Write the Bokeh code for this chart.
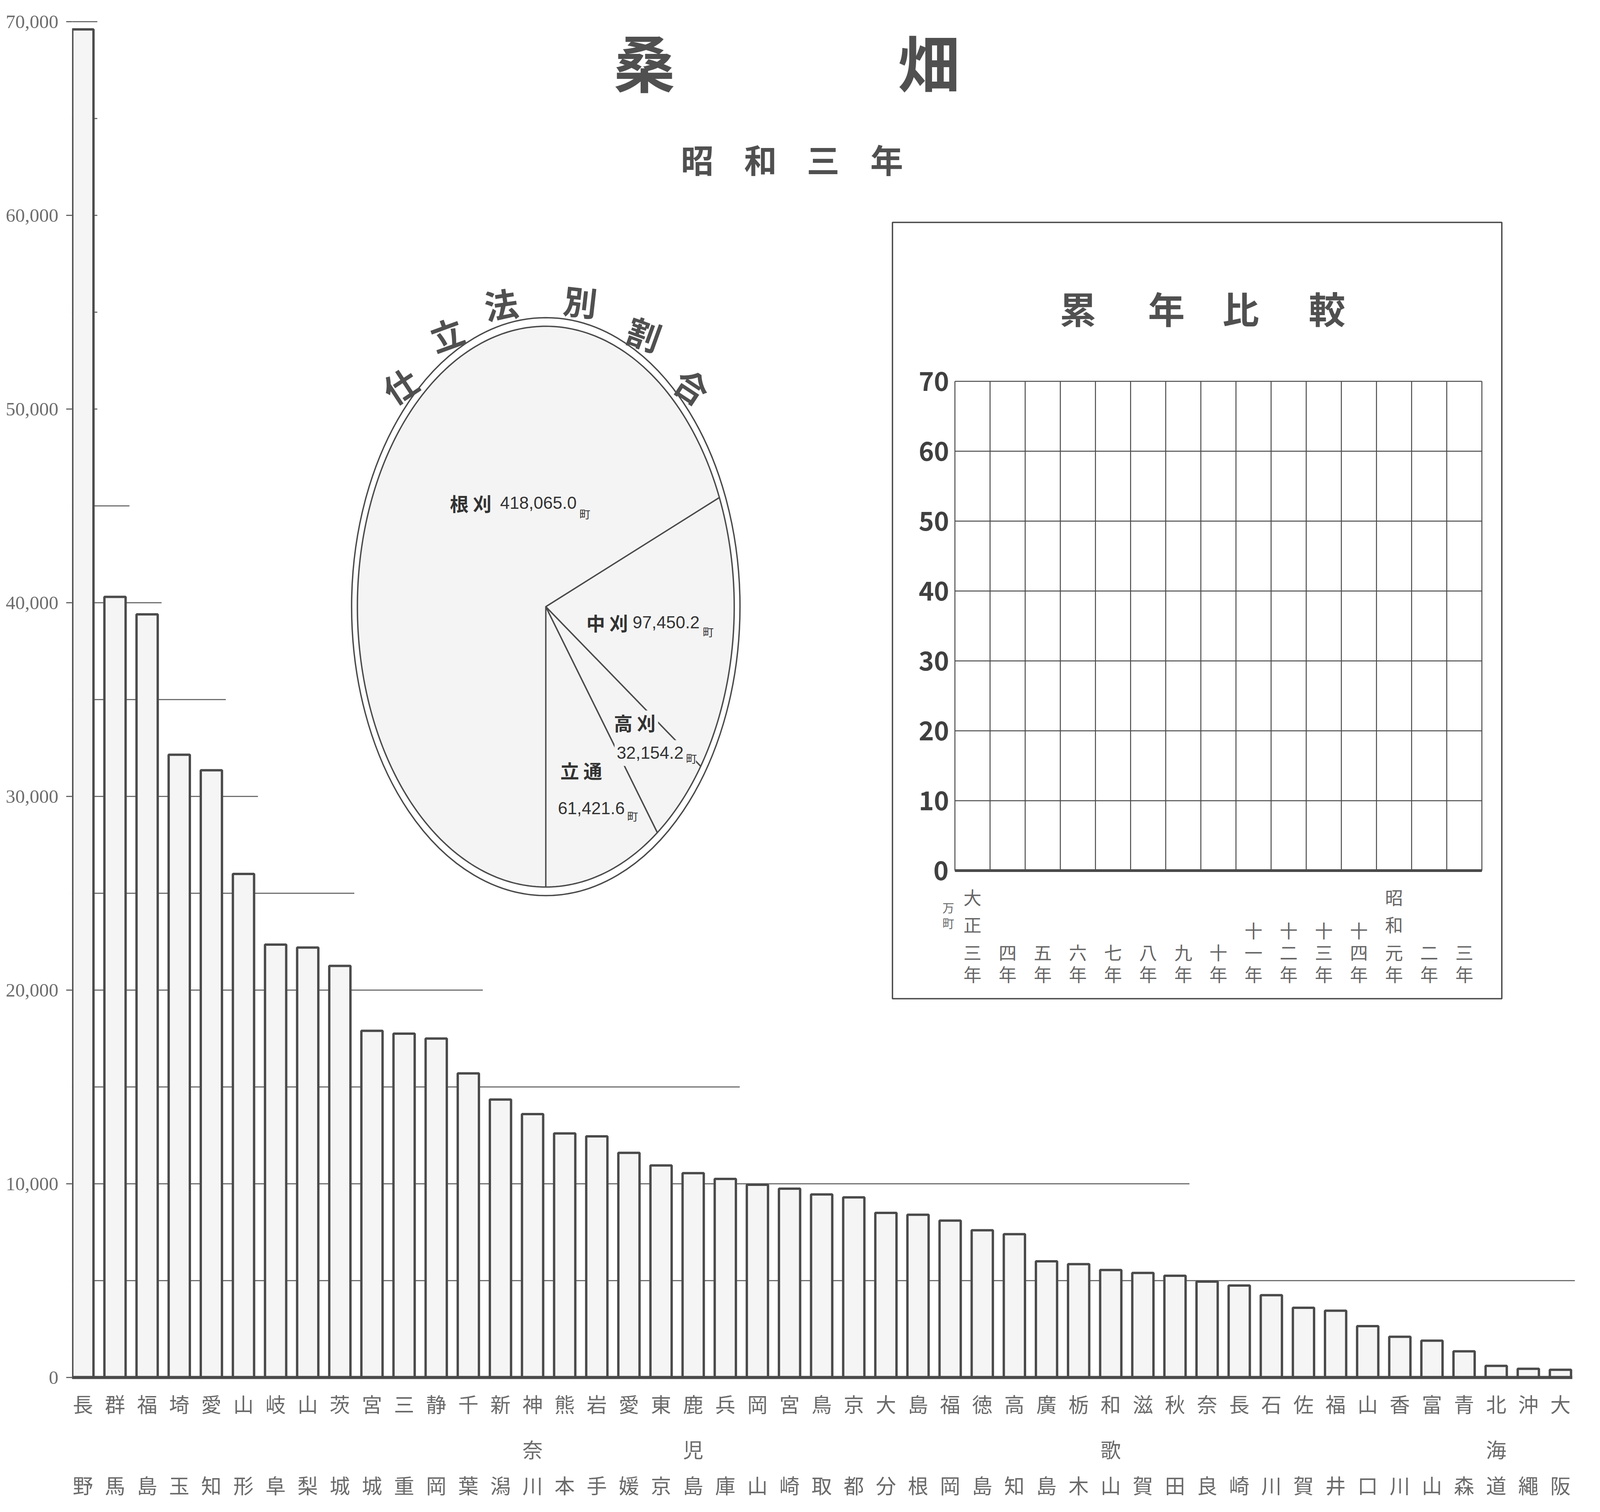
import math
from bokeh.plotting import figure
from bokeh.models import Range1d, LinearAxis, FixedTicker, NumeralTickFormatter, ColumnDataSource, Label
from bokeh.core.properties import value
from bokeh.embed import file_html
from bokeh.resources import INLINE

# ---------------- data ----------------
prefectures = ["長野", "群馬", "福島", "埼玉", "愛知", "山形", "岐阜", "山梨", "茨城", "宮城",
               "三重", "静岡", "千葉", "新潟", "神奈川", "熊本", "岩手", "愛媛", "東京", "鹿児島",
               "兵庫", "岡山", "宮崎", "鳥取", "京都", "大分", "島根", "福岡", "徳島", "高知",
               "廣島", "栃木", "和歌山", "滋賀", "秋田", "奈良", "長崎", "石川", "佐賀", "福井",
               "山口", "香川", "富山", "青森", "北海道", "沖繩", "大阪"]
mulberry_area_cho = [69600, 40300, 39400, 32150, 31350, 26000, 22350, 22200, 21250, 17900,
                     17750, 17500, 15700, 14350, 13600, 12600, 12450, 11600, 10950, 10550,
                     10250, 9950, 9750, 9450, 9300, 8500, 8400, 8100, 7600, 7400,
                     6000, 5850, 5550, 5400, 5250, 4950, 4750, 4250, 3600, 3450,
                     2650, 2100, 1900, 1350, 600, 450, 400]
y_ticks = [0, 10000, 20000, 30000, 40000, 50000, 60000, 70000]
grid_levels = [5000, 10000, 15000, 20000, 25000, 30000, 35000, 40000,
               45000, 50000, 55000, 60000, 65000, 70000]

methods = ["立通", "高刈", "中刈", "根刈"]          # anticlockwise from the bottom
method_area = [61421.6, 32154.2, 97450.2, 418065.0]

inset_years = ["三年", "四年", "五年", "六年", "七年", "八年", "九年", "十年", "十一年",
               "十二年", "十三年", "十四年", "元年", "二年", "三年"]
inset_eras = ["大正", "", "", "", "", "", "", "", "", "", "", "", "昭和", "", ""]
inset_ticks = [0, 10, 20, 30, 40, 50, 60, 70]

title_chars = ["桑", "畑"]
subtitle_chars = ["昭", "和", "三", "年"]
pie_title_chars = ["仕", "立", "法", "別", "割", "合"]
inset_title_chars = ["累", "年", "比", "較"]

# ---------------- layout: reference pixels -> css px / data ----------------
SX, SY = 6097 / 4096, 1.0          # reference pixels per css pixel (x, y)
W, H = 4080, 3856
LEFT = 184
FL, FR = (LEFT + 8) * SX, (W + 8) * SX
FT, FB = 8 * SY, (H + 8) * SY
BAR0, BARSTEP = 327.0, 122.4       # reference x of first bar centre, spacing
BASE, VSCALE = 3535.0, 0.0496      # reference y of zero, ref px per cho


def dx(rx):
    return (rx - BAR0) / BARSTEP


def dy(ry):
    return (BASE - ry) / VSCALE


INK = "#4a4a4a"
PIE_FILL = "#f4f4f4"
CJK = value("Noto Sans CJK JP")

p = figure(width=W, height=H, x_range=Range1d(dx(FL), dx(FR)), y_range=Range1d(dy(FB), dy(FT)),
           x_axis_type=None, y_axis_type=None,
           output_backend="svg", toolbar_location=None,
           min_border_left=LEFT, min_border_right=0, min_border_top=0, min_border_bottom=0,
           outline_line_color=None, background_fill_color="white", border_fill_color="white")

# ---------------- y axis ----------------
yaxis = LinearAxis(ticker=FixedTicker(ticks=y_ticks), formatter=NumeralTickFormatter(format="0,0"))
yaxis.axis_line_color = None
yaxis.major_tick_line_color = "#666666"
yaxis.major_tick_line_width = 3
yaxis.major_tick_out = 15
yaxis.major_tick_in = 0
yaxis.minor_tick_line_color = None
yaxis.major_label_text_font = "Liberation Serif"
yaxis.major_label_text_font_size = "49px"
yaxis.major_label_text_color = "#6e6e6e"
yaxis.major_label_standoff = 20
p.add_layout(yaxis, "left")

# ---------------- bar chart ----------------
n = len(prefectures)
idx = list(range(n))
grid_x1 = []
for L in grid_levels:
    last = max(i for i, v in enumerate(mulberry_area_cho) if v >= L - 5000)
    grid_x1.append(last + 0.45)
p.segment(x0=[dx(FL)] * len(grid_levels), x1=grid_x1, y0=grid_levels, y1=grid_levels,
          line_color="#707070", line_width=3)
p.vbar(x=idx, top=mulberry_area_cho, bottom=0, width=0.66,
       fill_color="#f5f5f5", line_color=INK, line_width=6)
p.segment(x0=[-0.37], x1=[n - 1 + 0.37], y0=[0], y1=[0], line_color=INK, line_width=8)

# ---------------- pie (polygons, so it is round in the reference frame) ----------------
PCX, PCY, PIE_R = 2091, 1561, 718
total = sum(method_area)
xs, ys = [], []
a = -math.pi / 2
for v in method_area:
    a1 = a + 2 * math.pi * v / total
    steps = max(2, int(math.degrees(a1 - a)))
    px_ = [PCX] + [PCX + PIE_R * math.cos(a + (a1 - a) * k / steps) for k in range(steps + 1)]
    py_ = [PCY] + [PCY - PIE_R * math.sin(a + (a1 - a) * k / steps) for k in range(steps + 1)]
    xs.append([dx(q) for q in px_])
    ys.append([dy(q) for q in py_])
    a = a1
p.patches(xs=xs, ys=ys, fill_color=PIE_FILL, line_color=INK, line_width=3.5, line_join="round")
p.ellipse(x=[dx(PCX)], y=[dy(PCY)], width=[2 * 740 / BARSTEP], height=[2 * 740 / VSCALE],
          fill_alpha=0, line_color=INK, line_width=3.5)
# masks where the 高刈 labels interrupt the slice lines
p.quad(left=[dx(PCX + 250), dx(PCX + 262)], right=[dx(PCX + 428), dx(PCX + 572)],
       top=[dy(PCY + 266), dy(PCY + 342)], bottom=[dy(PCY + 326), dy(PCY + 408)],
       fill_color=PIE_FILL, line_color=None)

# ---------------- inset geometry ----------------
IX0, IDX = 3650, 133.87
IY0, IDY = 2237, 17.9
ncol = len(inset_years)
p.quad(left=[dx(3412)], right=[dx(5734)], top=[dy(577)], bottom=[dy(2565)],
       fill_color="white", line_color=INK, line_width=3.5)
p.segment(x0=[dx(IX0)] * len(inset_ticks), x1=[dx(IX0 + ncol * IDX)] * len(inset_ticks),
          y0=[dy(IY0 - t * IDY) for t in inset_ticks], y1=[dy(IY0 - t * IDY) for t in inset_ticks],
          line_color=INK, line_width=2.5)
p.segment(x0=[dx(IX0 + j * IDX) for j in range(ncol + 1)],
          x1=[dx(IX0 + j * IDX) for j in range(ncol + 1)],
          y0=[dy(IY0)] * (ncol + 1), y1=[dy(IY0 - max(inset_ticks) * IDY)] * (ncol + 1),
          line_color=INK, line_width=2.5)
p.segment(x0=[dx(IX0)], x1=[dx(IX0 + ncol * IDX)], y0=[dy(IY0)], y1=[dy(IY0)],
          line_color=INK, line_width=7)

# ---------------- texts ----------------
row1 = [s[0] for s in prefectures]
row2 = [s[1] if len(s) == 3 else " " for s in prefectures]
row3 = [s[-1] for s in prefectures]
for txt, yy in ((row1, 3602), (row2, 3718), (row3, 3810)):
    p.text(x=idx, y=[dy(yy)] * n, text=txt,
           text_font=CJK, text_font_size="52px", text_color="#6a6a6a",
           text_align="center", text_baseline="middle")

lx, ly, lt = [], [], []
for j, (yr, era) in enumerate(zip(inset_years, inset_eras)):
    cx = dx(IX0 + (j + 0.5) * IDX)
    for k, ch in enumerate(reversed(yr)):
        lx.append(cx); ly.append(dy(2500 - 56 * k)); lt.append(ch)
    for k, ch in enumerate(era):
        lx.append(cx); ly.append(dy(2303 + 70 * k)); lt.append(ch)
p.text(x=lx, y=ly, text=lt, text_font=CJK, text_font_size="46px", text_color="#666666",
       text_align="center", text_baseline="middle")
p.text(x=[dx(3625)] * 2, y=[dy(2330), dy(2370)], text=["万", "町"],
       text_font=CJK, text_font_size="30px", text_color="#666666",
       text_align="center", text_baseline="middle")

# pie numbers and units (offsets from the pie centre in reference pixels, y up)
num_pos = {"根刈": (-174, 266), "中刈": (331, -40), "高刈": (270, -374), "立通": (46, -516)}
unit_pos = {"根刈": (128, 238), "中刈": (598, -64), "高刈": (534, -388), "立通": (310, -536)}
name_pos = {"根刈": (-286, 266), "中刈": (234, -40), "高刈": (339, -296), "立通": (135, -418)}
p.text(x=[dx(PCX + num_pos[m][0]) for m in methods], y=[dy(PCY - num_pos[m][1]) for m in methods],
       text=[f"{v:,.1f}" for v in method_area], text_font=value("Liberation Sans"),
       text_font_size="44px", text_color="#333333", text_align="left", text_baseline="middle")
p.text(x=[dx(PCX + unit_pos[m][0]) for m in methods], y=[dy(PCY - unit_pos[m][1]) for m in methods],
       text=["町"] * len(methods), text_font=CJK, text_font_size="28px",
       text_color="#333333", text_align="left", text_baseline="middle")

# headings (a single bold text renderer): title, subtitle, inset title, arc title,
# pie names and the inset's scale numbers
pie_title_angles = [134.4, 118.4, 102.4, 80.4, 61.8, 45.4]
PT_R = 795


def up_angle(t):
    tr = math.radians(t)
    return math.atan2(math.sin(tr) / SY, math.cos(tr) / SX) - math.pi / 2


INS_NUM_PX = 66
ins_num_right = IX0 - 26
ins_num_x = [dx(ins_num_right - len(str(t)) * 0.55 * INS_NUM_PX * SX / 2) for t in inset_ticks]

hx = [dx(2467), dx(3550)] + [dx(2668), dx(2909), dx(3148), dx(3390)] + \
     [dx(4119), dx(4456), dx(4739), dx(5068)] + \
     [dx(PCX + PT_R * math.cos(math.radians(t))) for t in pie_title_angles] + \
     [dx(PCX + name_pos[m][0]) for m in methods] + ins_num_x
hy = [dy(163)] * 2 + [dy(414)] * 4 + [dy(795)] * 4 + \
     [dy(PCY - PT_R * math.sin(math.radians(t))) for t in pie_title_angles] + \
     [dy(PCY - name_pos[m][1]) for m in methods] + [dy(IY0 - t * IDY) for t in inset_ticks]
htext = title_chars + subtitle_chars + inset_title_chars + pie_title_chars + \
        [m[0] + " " + m[1] for m in methods] + [str(t) for t in inset_ticks]
hsize = ["158px"] * 2 + ["84px"] * 4 + ["94px"] * 4 + ["86px"] * 6 + ["48px"] * 4 + \
        [f"{INS_NUM_PX}px"] * len(inset_ticks)
hangle = [0.0] * 10 + [up_angle(t) for t in pie_title_angles] + [0.0] * 4 + [0.0] * len(inset_ticks)
hcolor = ["#505050"] * 16 + ["#333333"] * 4 + ["#404040"] * len(inset_ticks)
heads = ColumnDataSource(dict(x=hx, y=hy, text=htext, size=hsize, angle=hangle, color=hcolor))
p.text(x="x", y="y", text="text", angle="angle", text_font_size="size", text_color="color",
       source=heads, text_font=CJK, text_font_style="bold",
       text_align="center", text_baseline="middle")

# unit mark under the zero label (outside the frame)
p.add_layout(Label(x=dx(236), y=dy(3600), text="町", text_font="Noto Sans CJK JP",
                   text_font_size="28px", text_color="#777777",
                   text_align="center", text_baseline="middle"))

open("out.html", "w").write(file_html(p, INLINE))
